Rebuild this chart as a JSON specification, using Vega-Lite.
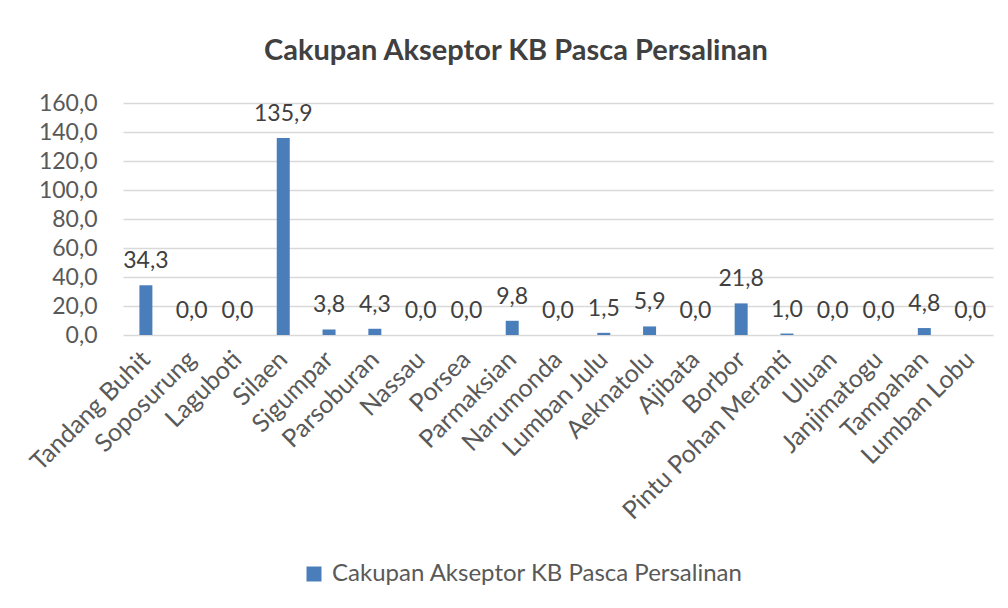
{
  "$schema": "https://vega.github.io/schema/vega-lite/v6.json",
  "autosize": "none",
  "width": 870,
  "height": 232,
  "padding": {"left": 123, "top": 103, "right": 15, "bottom": 273},
  "background": "white",
  "config": {
    "locale": {"number": {"decimal": ",", "thousands": ".", "grouping": [3], "currency": ["", ""]}},
    "font": "Lato",
    "view": {"stroke": null}
  },
  "title": {
    "text": "Cakupan Akseptor KB Pasca Persalinan",
    "font": "Lato",
    "fontSize": 29,
    "fontWeight": "bold",
    "color": "#404040",
    "anchor": "middle",
    "dx": -42,
    "offset": 26
  },
  "data": {
    "values": [
      {"desa": "Tandang Buhit", "nilai": 34.3},
      {"desa": "Soposurung", "nilai": 0},
      {"desa": "Laguboti", "nilai": 0},
      {"desa": "Silaen", "nilai": 135.9},
      {"desa": "Sigumpar", "nilai": 3.8},
      {"desa": "Parsoburan", "nilai": 4.3},
      {"desa": "Nassau", "nilai": 0},
      {"desa": "Porsea", "nilai": 0},
      {"desa": "Parmaksian", "nilai": 9.8},
      {"desa": "Narumonda", "nilai": 0},
      {"desa": "Lumban Julu", "nilai": 1.5},
      {"desa": "Aeknatolu", "nilai": 5.9},
      {"desa": "Ajibata", "nilai": 0},
      {"desa": "Borbor", "nilai": 21.8},
      {"desa": "Pintu Pohan Meranti", "nilai": 1.0},
      {"desa": "Uluan", "nilai": 0},
      {"desa": "Janjimatogu", "nilai": 0},
      {"desa": "Tampahan", "nilai": 4.8},
      {"desa": "Lumban Lobu", "nilai": 0}
    ]
  },
  "encoding": {
    "x": {
      "field": "desa",
      "type": "nominal",
      "sort": null,
      "title": null,
      "scale": {"paddingInner": 0, "paddingOuter": 0},
      "axis": {
        "labelAngle": -45,
        "labelAlign": "right",
        "labelBaseline": "middle",
        "labelFontSize": 25,
        "labelColor": "#595959",
        "labelPadding": 20,
        "ticks": false,
        "domain": false,
        "grid": false,
        "labelLimit": 400
      }
    },
    "y": {
      "field": "nilai",
      "type": "quantitative",
      "title": null,
      "scale": {"domain": [0, 160]},
      "axis": {
        "values": [0, 20, 40, 60, 80, 100, 120, 140, 160],
        "format": ".1f",
        "labelFontSize": 23,
        "labelColor": "#595959",
        "labelPadding": 26,
        "ticks": false,
        "domain": false,
        "gridColor": "#d9d9d9",
        "gridWidth": 1.5
      }
    }
  },
  "layer": [
    {
      "mark": {"type": "bar", "width": 13, "color": "#4a7ebb"},
      "encoding": {
        "color": {
          "datum": "Cakupan Akseptor KB Pasca Persalinan",
          "type": "nominal",
          "scale": {"range": ["#4a7ebb"]},
          "legend": {
            "title": null,
            "orient": "none",
            "legendX": 179,
            "legendY": 459,
            "symbolType": "square",
            "symbolSize": 225,
            "symbolStrokeWidth": 0,
            "labelFontSize": 24,
            "labelColor": "#595959",
            "labelFont": "Lato",
            "labelOffset": 6,
            "labelLimit": 600
          }
        }
      }
    },
    {
      "mark": {"type": "text", "fontSize": 23, "color": "#404040", "baseline": "alphabetic", "dy": -17, "font": "Lato"},
      "encoding": {
        "text": {"field": "nilai", "type": "quantitative", "format": ".1f"}
      }
    }
  ]
}
